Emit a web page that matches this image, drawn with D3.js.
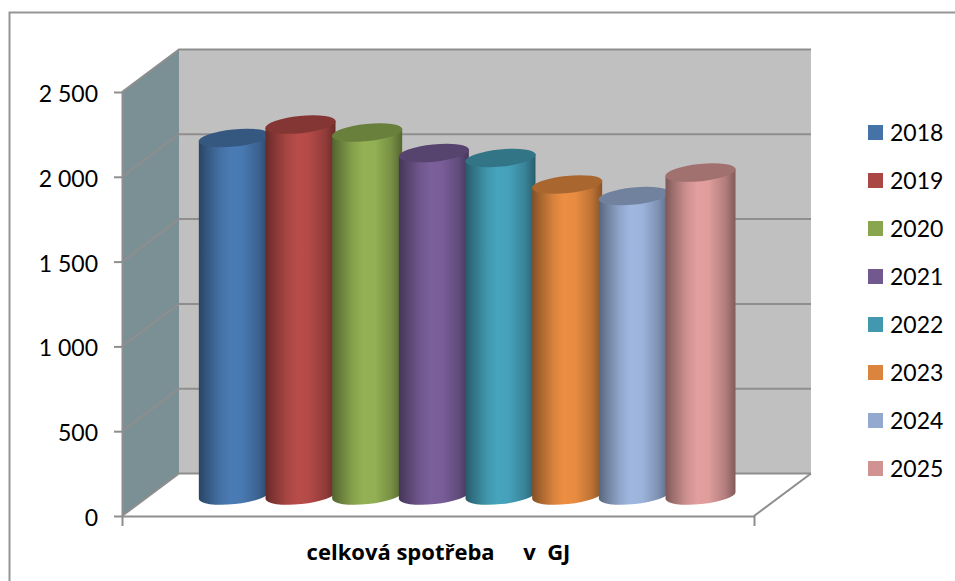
<!DOCTYPE html>
<html>
<head>
<meta charset="utf-8">
<script src="https://cdn.jsdelivr.net/npm/d3@7"></script>
<style>
  html, body { margin: 0; padding: 0; background: #fff; overflow: hidden; }
  text { font-family: Lato, "Open Sans", sans-serif; fill: #000; }
</style>
</head>
<body>
<script>
// data
const years = ["2018", "2019", "2020", "2021", "2022", "2023", "2024", "2025"];
const values = [2108, 2187, 2140, 2019, 1990, 1834, 1766, 1904];
const colors = ["#4572A7", "#AA4643", "#89A54E", "#71588F", "#4198AF", "#DB843D", "#93A9CF", "#D19392"];
const yTicks = [0, 500, 1000, 1500, 2000, 2500];
const axisTitle = "celková spotřeba     v  GJ";

// layout
const w = 955, h = 581;
const plotLeft = 122, plotRight = 754, plotBottom = 516, plotTop = 92;
const depthX = 57, depthY = -42.5; // 3d box depth
const barDx = 27.5, barDy = -20.5; // bars stand in the middle of the floor
const rx = 35, ry = 8.6, tilt = 3.6;
const lineCol = "#8e8e8e";

const svg = d3.select("body").append("svg")
  .attr("width", w)
  .attr("height", h)
  .style("display", "block");

// scales
const x = d3.scaleBand().domain(years).range([plotLeft, plotRight]).paddingInner(0).paddingOuter(0.74);
const y = d3.scaleLinear().domain([0, 2500]).range([plotBottom, plotTop]);

// outer frame, only top and left are in the picture
svg.append("path")
  .attr("d", "M9.5," + h + "V12.5H" + w)
  .attr("fill", "none")
  .attr("stroke", "#969696")
  .attr("stroke-width", 2);

// box walls
svg.append("rect")
  .attr("x", plotLeft + depthX)
  .attr("y", y(2500) + depthY)
  .attr("width", plotRight - plotLeft)
  .attr("height", y(0) - y(2500))
  .attr("fill", "#c0c0c0");

svg.append("path")
  .attr("d", d3.line()([[plotLeft, y(0)], [plotLeft, y(2500)], [plotLeft + depthX, y(2500) + depthY], [plotLeft + depthX, y(0) + depthY]]) + "Z")
  .attr("fill", "#7b9095");

// gridlines on back and side wall
svg.append("g").selectAll("path")
  .data(yTicks)
  .enter()
  .append("path")
  .attr("d", d => d3.line()([[plotLeft, y(d)], [plotLeft + depthX, y(d) + depthY], [plotRight + depthX, y(d) + depthY]]))
  .attr("fill", "none")
  .attr("stroke", lineCol)
  .attr("stroke-width", 2);

// right floor edge
svg.append("path")
  .attr("d", d3.line()([[plotRight, y(0)], [plotRight + depthX, y(0) + depthY]]))
  .attr("stroke", lineCol)
  .attr("stroke-width", 2);

// cylinder shading
const defs = svg.append("defs");
const shade = [[0, 0.6], [0.1, 0.74], [0.3, 0.98], [0.45, 1.08], [0.62, 1.06], [0.85, 0.86], [1, 0.62]];
function mult(c, k) {
  const r = d3.rgb(c);
  return d3.rgb(Math.min(255, r.r * k), Math.min(255, r.g * k), Math.min(255, r.b * k)).formatHex();
}
years.forEach((yr, i) => {
  const g = defs.append("linearGradient").attr("id", "bar" + yr);
  shade.forEach(s => g.append("stop").attr("offset", s[0]).attr("stop-color", mult(colors[i], s[1])));
});

// bars
const barW = 2 * rx;
const bars = svg.append("g").selectAll("g")
  .data(years)
  .enter()
  .append("g")
  .attr("transform", d => "translate(" + (x(d) + barDx) + "," + barDy + ")");

const rot = Math.atan2(-tilt, rx) * 180 / Math.PI;

bars.append("path")
  .attr("d", (d, i) => {
    const yb = y(0), yt = y(values[i]);
    return "M0," + (yt + tilt) + "L0," + (yb + tilt) +
      "A" + rx + "," + ry + " " + rot + " 0 0 " + barW + "," + (yb - tilt) +
      "L" + barW + "," + (yt - tilt) + "Z";
  })
  .attr("fill", d => "url(#bar" + d + ")");

bars.append("ellipse")
  .attr("cx", rx)
  .attr("cy", (d, i) => y(values[i]))
  .attr("rx", rx + 0.4)
  .attr("ry", ry)
  .attr("transform", (d, i) => "rotate(" + rot + " " + rx + " " + y(values[i]) + ")")
  .attr("fill", (d, i) => mult(colors[i], 0.77));

// axes
const fmt = d3.formatLocale({ thousands: "\u00a0", decimal: ",", grouping: [3], currency: ["", ""] }).format(",d");

const leftAxis = d3.axisLeft(y)
  .tickValues(yTicks)
  .tickFormat(fmt)
  .tickSize(8)
  .tickSizeOuter(0)
  .tickPadding(16);

const bottomAxis = d3.axisBottom(x)
  .tickValues([])
  .tickSizeOuter(10);

const gLeft = svg.append("g").attr("transform", "translate(" + plotLeft + ",0)").call(leftAxis);
const gBottom = svg.append("g").attr("transform", "translate(0," + plotBottom + ")").call(bottomAxis);

[gLeft, gBottom].forEach(g => {
  g.selectAll("path, line").attr("stroke", lineCol).attr("stroke-width", 2);
});
gLeft.selectAll("text")
  .style("font-size", "23px")
  .attr("dy", "0.41em");

// axis title
svg.append("text")
  .attr("x", 438.5)
  .attr("y", 560)
  .attr("text-anchor", "middle")
  .style("white-space", "pre")
  .style("font-family", "'Open Sans', sans-serif")
  .style("font-size", "22px")
  .style("font-weight", "bold")
  .text(axisTitle);

// legend
const legend = svg.append("g").selectAll("g")
  .data(years)
  .enter()
  .append("g")
  .attr("transform", (d, i) => "translate(868," + (125 + i * 48) + ")");

legend.append("rect")
  .attr("width", 15)
  .attr("height", 15)
  .attr("fill", (d, i) => colors[i]);

legend.append("text")
  .attr("x", 22)
  .attr("y", 15.5)
  .style("font-size", "23px")
  .text(d => d);
</script>
</body>
</html>
